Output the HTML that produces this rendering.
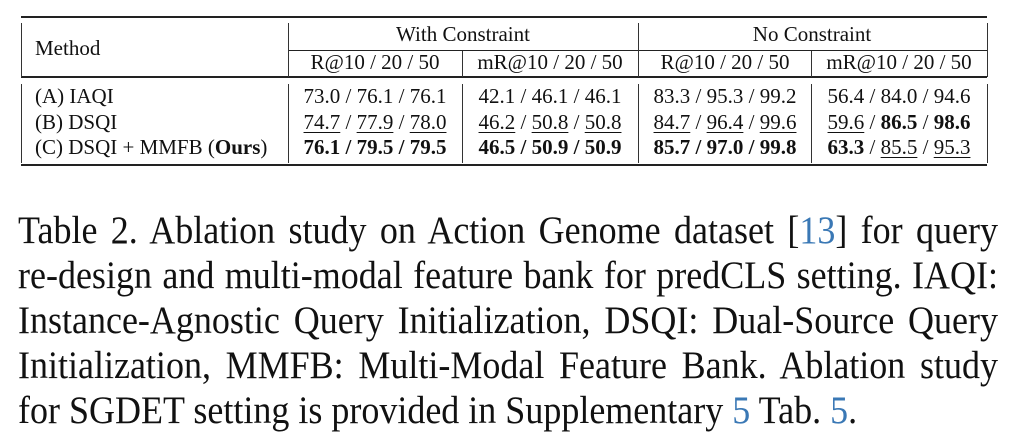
<!DOCTYPE html>
<html><head><meta charset="utf-8"><style>
body{margin:0;background:#fff;}
#c{position:relative;width:1024px;height:445px;overflow:hidden;background:#fff;font-family:"Liberation Serif",serif;color:#111;}
.h{position:absolute;background:#222;}
.v{position:absolute;width:1px;background:#333;}
.t{position:absolute;font-size:21px;line-height:22px;white-space:nowrap;transform:translate(-50%,-50%);}
.l{position:absolute;font-size:21px;line-height:22px;white-space:nowrap;transform:translateY(-50%);}
u{text-decoration:underline;text-underline-offset:3px;text-decoration-thickness:1px;}
.cap{position:absolute;left:18px;width:980px;font-size:36px;line-height:40px;white-space:nowrap;text-align:justify;text-align-last:justify;color:#111;transform:scaleY(1.08);transform-origin:0 50%;}
.blue{color:#3a78b5;}
</style></head><body><div id="c">
<div class="h" style="left:21px;top:16px;width:966px;height:2px"></div>
<div class="h" style="left:288px;top:50px;width:699px;height:1px"></div>
<div class="h" style="left:21px;top:76px;width:966px;height:2px"></div>
<div class="h" style="left:21px;top:164px;width:966px;height:2px"></div>
<div class="v" style="left:21px;top:23px;height:54px"></div>
<div class="v" style="left:288px;top:23px;height:54px"></div>
<div class="v" style="left:462px;top:51px;height:26px"></div>
<div class="v" style="left:638px;top:23px;height:54px"></div>
<div class="v" style="left:811px;top:51px;height:26px"></div>
<div class="v" style="left:987px;top:23px;height:54px"></div>
<div class="v" style="left:21px;top:84px;height:79px"></div>
<div class="v" style="left:288px;top:84px;height:79px"></div>
<div class="v" style="left:462px;top:84px;height:79px"></div>
<div class="v" style="left:638px;top:84px;height:79px"></div>
<div class="v" style="left:811px;top:84px;height:79px"></div>
<div class="v" style="left:987px;top:84px;height:79px"></div>

<div class="l" style="left:35px;top:48px">Method</div>
<div class="t" style="left:463px;top:34px">With Constraint</div>
<div class="t" style="left:812px;top:34px">No Constraint</div>
<div class="t" style="left:375px;top:62px">R@10 / 20 / 50</div>
<div class="t" style="left:550px;top:62px">mR@10 / 20 / 50</div>
<div class="t" style="left:725px;top:62px">R@10 / 20 / 50</div>
<div class="t" style="left:899px;top:62px">mR@10 / 20 / 50</div>

<div class="l" style="left:35px;top:96px">(A) IAQI</div>
<div class="l" style="left:35px;top:122px">(B) DSQI</div>
<div class="l" style="left:35px;top:147px">(C) DSQI + MMFB (<b>Ours</b>)</div>

<div class="t" style="left:375px;top:96px">73.0 / 76.1 / 76.1</div>
<div class="t" style="left:550px;top:96px">42.1 / 46.1 / 46.1</div>
<div class="t" style="left:725px;top:96px">83.3 / 95.3 / 99.2</div>
<div class="t" style="left:899px;top:96px">56.4 / 84.0 / 94.6</div>

<div class="t" style="left:375px;top:122px"><u>74.7</u> / <u>77.9</u> / <u>78.0</u></div>
<div class="t" style="left:550px;top:122px"><u>46.2</u> / <u>50.8</u> / <u>50.8</u></div>
<div class="t" style="left:725px;top:122px"><u>84.7</u> / <u>96.4</u> / <u>99.6</u></div>
<div class="t" style="left:899px;top:122px"><u>59.6</u> / <b>86.5</b> / <b>98.6</b></div>

<div class="t" style="left:375px;top:147px"><b>76.1 / 79.5 / 79.5</b></div>
<div class="t" style="left:550px;top:147px"><b>46.5 / 50.9 / 50.9</b></div>
<div class="t" style="left:725px;top:147px"><b>85.7 / 97.0 / 99.8</b></div>
<div class="t" style="left:899px;top:147px"><b>63.3</b> / <u>85.5</u> / <u>95.3</u></div>

<div class="cap" style="top:210px">Table 2. Ablation study on Action Genome dataset [<span class="blue">13</span>] for query</div>
<div class="cap" style="top:255px">re-design and multi-modal feature bank for predCLS setting. IAQI:</div>
<div class="cap" style="top:300px">Instance-Agnostic Query Initialization, DSQI: Dual-Source Query</div>
<div class="cap" style="top:345px">Initialization, MMFB: Multi-Modal Feature Bank. Ablation study</div>
<div class="cap" style="top:390px;text-align:left;text-align-last:left">for SGDET setting is provided in Supplementary <span class="blue">5</span> Tab. <span class="blue">5</span>.</div>
</div></body></html>
